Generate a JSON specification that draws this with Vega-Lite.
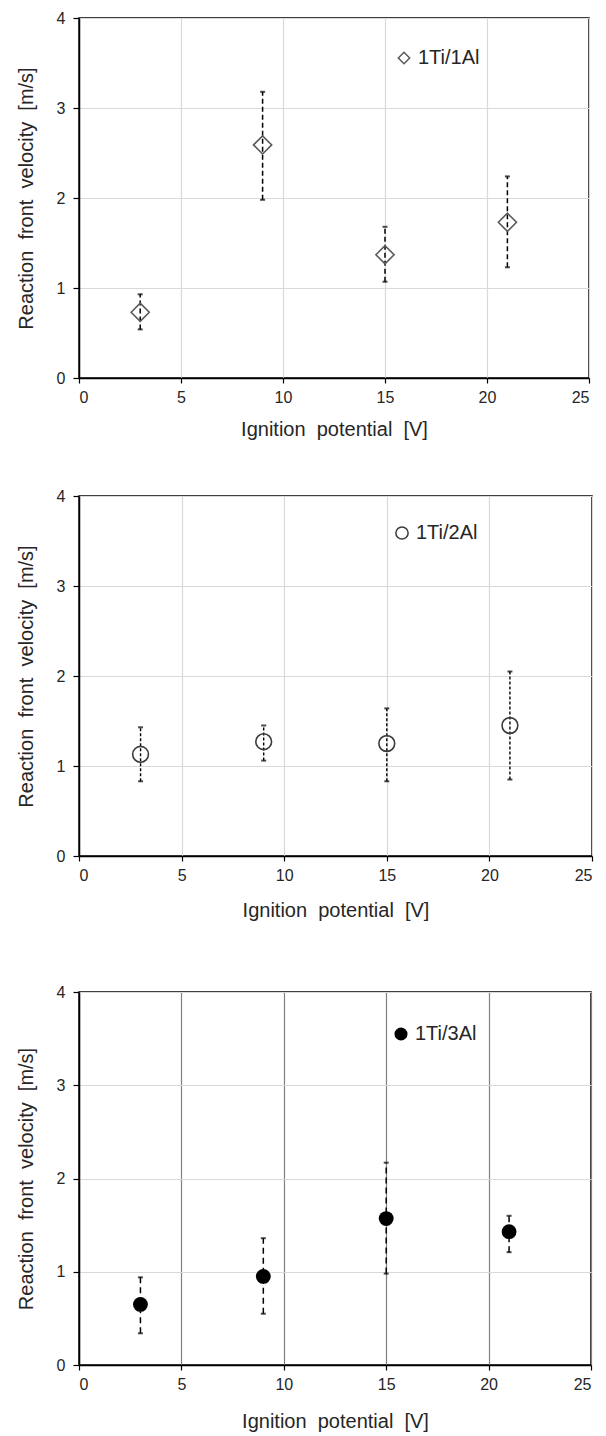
{
  "$schema": "https://vega.github.io/schema/vega-lite/v6.json",
  "padding": {"left": 15, "top": 9, "right": 2, "bottom": 2},
  "background": "white",
  "datasets": {
    "p1": [
      {"v": 3, "vel": 0.73, "lo": 0.54, "hi": 0.93, "series": "1Ti/1Al"},
      {"v": 9, "vel": 2.59, "lo": 1.98, "hi": 3.18, "series": "1Ti/1Al"},
      {"v": 15, "vel": 1.37, "lo": 1.07, "hi": 1.68, "series": "1Ti/1Al"},
      {"v": 21, "vel": 1.73, "lo": 1.23, "hi": 2.24, "series": "1Ti/1Al"}
    ],
    "p2": [
      {"v": 3, "vel": 1.13, "lo": 0.83, "hi": 1.43, "series": "1Ti/2Al"},
      {"v": 9, "vel": 1.27, "lo": 1.06, "hi": 1.45, "series": "1Ti/2Al"},
      {"v": 15, "vel": 1.25, "lo": 0.83, "hi": 1.64, "series": "1Ti/2Al"},
      {"v": 21, "vel": 1.45, "lo": 0.85, "hi": 2.05, "series": "1Ti/2Al"}
    ],
    "p3": [
      {"v": 3, "vel": 0.65, "lo": 0.34, "hi": 0.94, "series": "1Ti/3Al"},
      {"v": 9, "vel": 0.95, "lo": 0.55, "hi": 1.36, "series": "1Ti/3Al"},
      {"v": 15, "vel": 1.57, "lo": 0.98, "hi": 2.17, "series": "1Ti/3Al"},
      {"v": 21, "vel": 1.43, "lo": 1.21, "hi": 1.60, "series": "1Ti/3Al"}
    ]
  },
  "spacing": 62,
  "resolve": {"scale": {"shape": "independent"}, "legend": {"shape": "independent"}},
  "vconcat": [
    {
      "spacing": 47,
      "resolve": {"scale": {"shape": "independent"}, "legend": {"shape": "independent"}},
      "vconcat": [
        {
          "width": 510,
          "height": 360,
          "data": {"name": "p1"},
          "encoding": {
            "x": {"field": "v", "type": "quantitative", "title": "Ignition \u00a0potential \u00a0[V]",
                  "scale": {"domain": [0, 25], "nice": false},
                  "axis": {"values": [0, 5, 10, 15, 20, 25], "titlePadding": 14}}
          },
          "layer": [
            {"mark": {"type": "rule", "strokeDash": [5, 3], "strokeWidth": 1.5, "color": "black"},
             "encoding": {"y": {"field": "lo", "type": "quantitative", "title": "Reaction \u00a0front \u00a0velocity \u00a0[m/s]",
                                "scale": {"domain": [0, 4], "nice": false}, "axis": {"values": [0, 1, 2, 3, 4], "format": "d"}},
                          "y2": {"field": "hi"}}},
            {"mark": {"type": "tick", "orient": "horizontal", "size": 5, "thickness": 2, "color": "black"},
             "encoding": {"y": {"field": "lo", "type": "quantitative", "title": "Reaction \u00a0front \u00a0velocity \u00a0[m/s]"}}},
            {"mark": {"type": "tick", "orient": "horizontal", "size": 5, "thickness": 2, "color": "black"},
             "encoding": {"y": {"field": "hi", "type": "quantitative", "title": "Reaction \u00a0front \u00a0velocity \u00a0[m/s]"}}},
            {"mark": {"type": "point", "filled": false, "strokeWidth": 1.6, "size": 330, "color": "#5a5a5a", "opacity": 1},
             "encoding": {"y": {"field": "vel", "type": "quantitative", "title": "Reaction \u00a0front \u00a0velocity \u00a0[m/s]"},
                          "shape": {"field": "series", "type": "nominal", "scale": {"range": ["diamond"]},
                                    "legend": {"orient": "none", "legendX": 315, "legendY": 30, "title": null,
                                               "symbolSize": 130, "symbolStrokeColor": "#5a5a5a", "symbolFillColor": "transparent",
                                               "symbolStrokeWidth": 1.5}}}}
          ]
        },
        {
          "width": 513,
          "height": 360,
          "data": {"name": "p2"},
          "encoding": {
            "x": {"field": "v", "type": "quantitative", "title": "Ignition \u00a0potential \u00a0[V]",
                  "scale": {"domain": [0, 25], "nice": false},
                  "axis": {"values": [0, 5, 10, 15, 20, 25], "titlePadding": 17}}
          },
          "layer": [
            {"mark": {"type": "rule", "strokeDash": [3, 2], "strokeWidth": 1.4, "color": "black"},
             "encoding": {"y": {"field": "lo", "type": "quantitative", "title": "Reaction \u00a0front \u00a0velocity \u00a0[m/s]",
                                "scale": {"domain": [0, 4], "nice": false}, "axis": {"values": [0, 1, 2, 3, 4], "format": "d"}},
                          "y2": {"field": "hi"}}},
            {"mark": {"type": "tick", "orient": "horizontal", "size": 5, "thickness": 2, "color": "black"},
             "encoding": {"y": {"field": "lo", "type": "quantitative", "title": "Reaction \u00a0front \u00a0velocity \u00a0[m/s]"}}},
            {"mark": {"type": "tick", "orient": "horizontal", "size": 5, "thickness": 2, "color": "black"},
             "encoding": {"y": {"field": "hi", "type": "quantitative", "title": "Reaction \u00a0front \u00a0velocity \u00a0[m/s]"}}},
            {"mark": {"type": "point", "filled": false, "strokeWidth": 1.6, "size": 250, "color": "#3a3a3a", "opacity": 1},
             "encoding": {"y": {"field": "vel", "type": "quantitative", "title": "Reaction \u00a0front \u00a0velocity \u00a0[m/s]"},
                          "shape": {"field": "series", "type": "nominal", "scale": {"range": ["circle"]},
                                    "legend": {"orient": "none", "legendX": 313, "legendY": 27, "title": null,
                                               "symbolSize": 150, "symbolStrokeColor": "#3a3a3a", "symbolFillColor": "transparent",
                                               "symbolStrokeWidth": 1.5}}}}
          ]
        }
      ]
    },
    {
      "width": 512,
      "height": 373,
      "data": {"name": "p3"},
      "encoding": {
        "x": {"field": "v", "type": "quantitative", "title": "Ignition \u00a0potential \u00a0[V]",
              "scale": {"domain": [0, 25], "nice": false},
              "axis": {"values": [0, 5, 10, 15, 20, 25], "titlePadding": 19, "gridColor": "#808080", "gridWidth": 1.2}}
      },
      "layer": [
        {"mark": {"type": "rule", "strokeDash": [6, 4], "strokeWidth": 1.5, "color": "black"},
         "encoding": {"y": {"field": "lo", "type": "quantitative", "title": "Reaction \u00a0front \u00a0velocity \u00a0[m/s]",
                            "scale": {"domain": [0, 4], "nice": false}, "axis": {"values": [0, 1, 2, 3, 4], "format": "d"}},
                      "y2": {"field": "hi"}}},
        {"mark": {"type": "tick", "orient": "horizontal", "size": 5, "thickness": 2, "color": "black"},
         "encoding": {"y": {"field": "lo", "type": "quantitative", "title": "Reaction \u00a0front \u00a0velocity \u00a0[m/s]"}}},
        {"mark": {"type": "tick", "orient": "horizontal", "size": 5, "thickness": 2, "color": "black"},
         "encoding": {"y": {"field": "hi", "type": "quantitative", "title": "Reaction \u00a0front \u00a0velocity \u00a0[m/s]"}}},
        {"mark": {"type": "point", "filled": true, "size": 220, "color": "black", "opacity": 1},
         "encoding": {"y": {"field": "vel", "type": "quantitative", "title": "Reaction \u00a0front \u00a0velocity \u00a0[m/s]"},
                      "shape": {"field": "series", "type": "nominal", "scale": {"range": ["circle"]},
                                "legend": {"orient": "none", "legendX": 312, "legendY": 32, "title": null,
                                           "symbolSize": 170, "symbolFillColor": "black", "symbolStrokeColor": "black",
                                           "symbolStrokeWidth": 0}}}}
      ]
    }
  ],
  "config": {
    "font": "Liberation Sans",
    "view": {"stroke": "black", "strokeWidth": 1.5},
    "axis": {
      "domainColor": "black", "domainWidth": 1.5,
      "tickColor": "black", "tickWidth": 1.2,
      "gridColor": "#d9d9d9", "gridWidth": 1.2,
      "labelFont": "Liberation Sans", "labelFontSize": 16, "labelColor": "#262626",
      "titleFont": "Liberation Sans", "titleFontSize": 20, "titleFontWeight": "normal", "titleColor": "#262626"
    },
    "axisX": {"tickSize": 5, "labelPadding": 6},
    "axisY": {"tickSize": 6, "labelPadding": 8, "titlePadding": 20},
    "legend": {"labelFont": "Liberation Sans", "labelFontSize": 20, "labelColor": "#262626", "padding": 0, "labelOffset": 4}
  }
}
